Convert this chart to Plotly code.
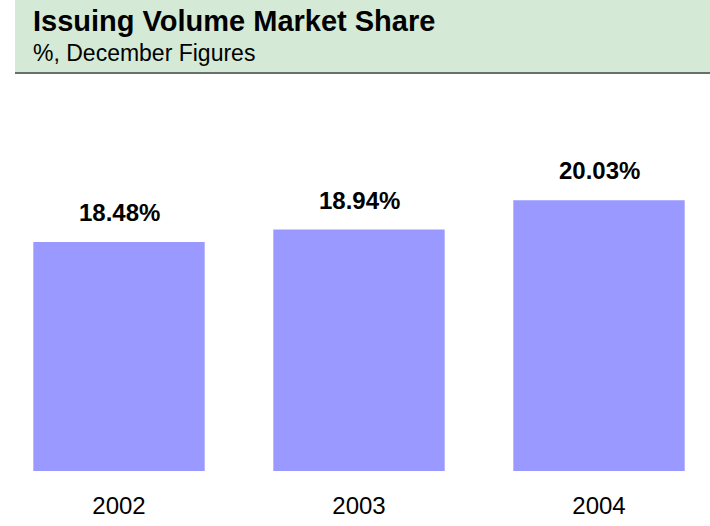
import plotly.graph_objects as go

years = ["2002", "2003", "2004"]
share = [18.48, 18.94, 20.03]
labels = ["18.48%", "18.94%", "20.03%"]

FONT = "Liberation Sans, Arial, sans-serif"
TOP = 120      # plot-area top, px
PH = 351       # plot-area height, px


def py(px):
    return 1 + (TOP - px) / PH


fig = go.Figure()
fig.add_trace(go.Bar(x=list(range(len(years))), y=share,
                     marker=dict(color="#9999ff", line=dict(width=0)),
                     width=0.714, hoverinfo="skip"))

for i, (v, t) in enumerate(zip(share, labels)):
    fig.add_annotation(x=i, y=v, text="<b>%s</b>" % t, showarrow=False,
                       yanchor="bottom", yshift=14,
                       font=dict(family=FONT, size=24, color="#000000"))

# header band
fig.add_shape(type="rect", xref="paper", yref="paper", x0=15/710, x1=1.0,
              y0=py(72), y1=py(0),
              fillcolor="#d4ead6", line=dict(width=0), layer="below")
fig.add_shape(type="line", xref="paper", yref="paper", x0=15/710, x1=1.0,
              y0=py(73), y1=py(73),
              line=dict(color="#67706a", width=2))

fig.add_annotation(xref="paper", yref="paper", x=31/710, y=py(3),
                   xanchor="left", yanchor="top", showarrow=False,
                   text="<b>Issuing Volume Market Share</b>",
                   font=dict(family=FONT, size=29, color="#000000"))
fig.add_annotation(xref="paper", yref="paper", x=31/710, y=py(38),
                   xanchor="left", yanchor="top", showarrow=False,
                   text="%, December Figures",
                   font=dict(family=FONT, size=23, color="#000000"))

fig.update_layout(
    width=710, height=526,
    margin=dict(l=0, r=0, t=TOP, b=526 - TOP - PH),
    paper_bgcolor="white", plot_bgcolor="white",
    showlegend=False,
    xaxis=dict(tickmode="array", tickvals=list(range(len(years))), ticktext=years,
               range=[-119/240, (710 - 119)/240],
               showgrid=False, zeroline=False, showline=False, ticks="",
               ticklabelstandoff=18,
               tickfont=dict(family=FONT, size=24, color="#000000")),
    yaxis=dict(range=[10, 23], showgrid=False, zeroline=False, showline=False,
               showticklabels=False, ticks=""),
)

fig.write_html("out.html", config={"displayModeBar": False},
               post_script="document.body.style.margin='0px';")
